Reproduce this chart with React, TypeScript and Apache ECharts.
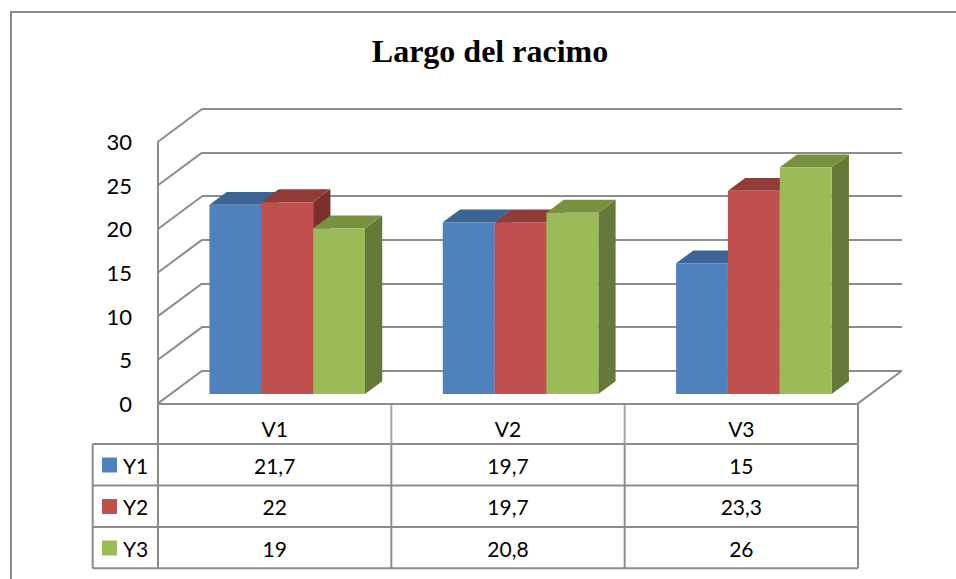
import React, { useEffect, useRef } from "react";
import * as echarts from "echarts";

// ---- data ----
const categories = ["V1", "V2", "V3"];
const seriesNames = ["Y1", "Y2", "Y3"];
const y1Values = [21.7, 19.7, 15];
const y2Values = [22, 19.7, 23.3];
const y3Values = [19, 20.8, 26];
const yTicks = [0, 5, 10, 15, 20, 25, 30];

const allValues = [y1Values, y2Values, y3Values];

// ---- styling ----
const FRONT = ["#4F81BD", "#C0504D", "#9BBB59"];
const TOP = ["#3C6494", "#923C3A", "#77913F"];
const SIDE = ["#34577F", "#7C302E", "#657A38"];
const GRID_COLOR = "#8c8c8c";
const LABEL_FONT = "Lato";
const TABLE_FONT_SIZE = 21;

// ---- layout (pixels) ----
const PLOT_LEFT = 158;
const PLOT_TOP = 141.7;
const PLOT_W = 700;
const PLOT_H = 261.7;
const DEPTH_X = 44; // full depth of the floor, projected
const DEPTH_Y = -32.7;
const BAR_FRONT = 0.285; // bars start this far into the depth
const BAR_DEPTH = 0.393; // and are this deep
const TABLE_LEFT = 92.7;
const ROW_LINES = [444, 485.5, 527, 568.3];
const ROW_TEXT_Y = [465, 506.5, 548];

const fmt = (v: number) => String(v).replace(".", ",");

function barRenderer(si: number) {
  return (_params: any, api: any) => {
    const cat = api.value(0);
    const val = api.value(1);
    const band = api.size([1, 0])[0];
    const base = api.coord([cat, 0]);
    const top = api.coord([cat, val]);
    const barW = band / 4.5;
    const fx = BAR_FRONT * DEPTH_X;
    const fy = BAR_FRONT * DEPTH_Y;
    const dx = BAR_DEPTH * DEPTH_X;
    const dy = BAR_DEPTH * DEPTH_Y;
    const x0 = base[0] - band / 2 + 0.75 * barW + si * barW + fx;
    const x1 = x0 + barW;
    const yb = base[1] + fy;
    const yt = top[1] + fy;
    return {
      type: "group",
      children: [
        {
          type: "polygon",
          shape: { points: [[x1, yt], [x1 + dx, yt + dy], [x1 + dx, yb + dy], [x1, yb]] },
          style: { fill: SIDE[si] },
        },
        {
          type: "polygon",
          shape: { points: [[x0, yt], [x1, yt], [x1 + dx, yt + dy], [x0 + dx, yt + dy]] },
          style: { fill: TOP[si] },
        },
        {
          type: "rect",
          shape: { x: x0, y: yt, width: barW, height: yb - yt },
          style: { fill: FRONT[si] },
        },
      ],
    };
  };
}

// diagonal lines of the side wall, one per tick
function sideWallRenderer(_params: any, api: any) {
  const v = api.value(1);
  const band = api.size([1, 0])[0];
  const p = api.coord([0, v]);
  const left = p[0] - band / 2;
  return {
    type: "line",
    shape: { x1: left, y1: p[1], x2: left + DEPTH_X, y2: p[1] + DEPTH_Y },
    style: { stroke: GRID_COLOR, lineWidth: 2 },
  };
}

// right edge of the floor
function floorEdgeRenderer(_params: any, api: any) {
  const band = api.size([1, 0])[0];
  const p = api.coord([api.value(0), 0]);
  const right = p[0] + band / 2;
  return {
    type: "line",
    shape: { x1: right, y1: p[1], x2: right + DEPTH_X, y2: p[1] + DEPTH_Y },
    style: { stroke: GRID_COLOR, lineWidth: 2 },
  };
}

// values of the data table under the plot
function tableRenderer(_params: any, api: any) {
  const cat = api.value(0);
  const val = api.value(1);
  const si = api.value(2);
  const p = api.coord([cat, 0]);
  return {
    type: "text",
    x: p[0],
    y: ROW_TEXT_Y[si],
    style: {
      text: fmt(val),
      fill: "#000",
      fontFamily: LABEL_FONT,
      fontSize: TABLE_FONT_SIZE,
      align: "center",
      verticalAlign: "middle",
      textAlign: "center",
      textVerticalAlign: "middle",
    },
  };
}

function buildTableGraphics() {
  const els: any[] = [];
  const right = PLOT_LEFT + PLOT_W;
  const floorY = PLOT_TOP + PLOT_H;
  ROW_LINES.forEach((y) => {
    els.push({
      type: "line",
      shape: { x1: TABLE_LEFT, y1: y, x2: right, y2: y },
      style: { stroke: GRID_COLOR, lineWidth: 2 },
    });
  });
  els.push({
    type: "line",
    shape: { x1: TABLE_LEFT, y1: ROW_LINES[0], x2: TABLE_LEFT, y2: ROW_LINES[3] },
    style: { stroke: GRID_COLOR, lineWidth: 2 },
  });
  for (let k = 0; k <= categories.length; k++) {
    const x = PLOT_LEFT + (k * PLOT_W) / categories.length;
    els.push({
      type: "line",
      shape: { x1: x, y1: floorY, x2: x, y2: ROW_LINES[0] },
      style: { stroke: k === 0 || k === categories.length ? GRID_COLOR : "#a6a6a6", lineWidth: 2 },
    });
    els.push({
      type: "line",
      shape: { x1: x, y1: ROW_LINES[0], x2: x, y2: ROW_LINES[3] },
      style: { stroke: GRID_COLOR, lineWidth: 2 },
    });
  }
  seriesNames.forEach((name, si) => {
    els.push({
      type: "rect",
      shape: { x: 102, y: ROW_TEXT_Y[si] - 7.5, width: 15, height: 15 },
      style: { fill: FRONT[si] },
    });
    els.push({
      type: "text",
      x: 123,
      y: ROW_TEXT_Y[si],
      style: {
        text: name,
        fill: "#000",
        fontFamily: LABEL_FONT,
        fontSize: TABLE_FONT_SIZE,
        align: "left",
        verticalAlign: "middle",
        textAlign: "left",
        textVerticalAlign: "middle",
      },
    });
  });
  return els;
}

export default function App() {
  const ref = useRef<HTMLDivElement>(null);

  useEffect(() => {
    if (!ref.current) return;
    const chart = echarts.init(ref.current, null, { renderer: "svg" });

    const tableData: number[][] = [];
    allValues.forEach((vals, si) => vals.forEach((v, ci) => tableData.push([ci, v, si])));

    const option: any = {
      animation: false,
      backgroundColor: "#ffffff",
      grid: [
        { left: PLOT_LEFT, top: PLOT_TOP, width: PLOT_W, height: PLOT_H },
        { left: PLOT_LEFT + DEPTH_X, top: PLOT_TOP + DEPTH_Y, width: PLOT_W, height: PLOT_H },
      ],
      xAxis: [
        {
          type: "category",
          gridIndex: 0,
          data: categories,
          axisLine: { show: true, lineStyle: { color: GRID_COLOR, width: 2 } },
          axisTick: { show: false },
          axisLabel: {
            show: true,
            color: "#000",
            fontFamily: LABEL_FONT,
            fontSize: TABLE_FONT_SIZE,
            margin: 15,
          },
          splitLine: { show: false },
        },
        {
          type: "category",
          gridIndex: 1,
          data: categories,
          show: false,
        },
      ],
      yAxis: [
        {
          type: "value",
          gridIndex: 0,
          min: 0,
          max: 30,
          interval: 5,
          axisLine: { show: true, lineStyle: { color: GRID_COLOR, width: 2 } },
          axisTick: { show: false },
          axisLabel: {
            color: "#000",
            fontFamily: LABEL_FONT,
            fontSize: 22,
            margin: 26,
          },
          splitLine: { show: false },
        },
        {
          type: "value",
          gridIndex: 1,
          min: 0,
          max: 30,
          interval: 5,
          axisLine: { show: false },
          axisTick: { show: false },
          axisLabel: { show: false },
          splitLine: { show: true, lineStyle: { color: GRID_COLOR, width: 2 } },
        },
      ],
      graphic: [
        {
          type: "rect",
          shape: { x: 11, y: 12, width: 1200, height: 1200 },
          style: { fill: "none", stroke: GRID_COLOR, lineWidth: 2 },
          silent: true,
        },
        {
          type: "text",
          x: 490,
          y: 51,
          style: {
            text: "Largo del racimo",
            fill: "#000",
            fontFamily: "Liberation Serif",
            fontWeight: "bold",
            fontSize: 32,
            align: "center",
            verticalAlign: "middle",
            textAlign: "center",
            textVerticalAlign: "middle",
          },
        },
        ...buildTableGraphics(),
      ],
      series: [
        {
          type: "custom",
          name: "side wall",
          xAxisIndex: 0,
          yAxisIndex: 0,
          z: 1,
          silent: true,
          renderItem: sideWallRenderer,
          data: yTicks.map((t) => [0, t]),
        },
        {
          type: "custom",
          name: "floor",
          xAxisIndex: 0,
          yAxisIndex: 0,
          z: 1,
          silent: true,
          renderItem: floorEdgeRenderer,
          data: [[categories.length - 1, 0]],
        },
        ...seriesNames.map((name, si) => ({
          type: "custom",
          name,
          xAxisIndex: 0,
          yAxisIndex: 0,
          z: 3,
          renderItem: barRenderer(si),
          data: allValues[si].map((v, ci) => [ci, v]),
        })),
        {
          type: "custom",
          name: "table",
          xAxisIndex: 0,
          yAxisIndex: 0,
          z: 3,
          silent: true,
          renderItem: tableRenderer,
          encode: { x: 0, y: 1 },
          data: tableData,
        },
      ],
    };

    chart.setOption(option);
    return () => chart.dispose();
  }, []);

  return (
    <div
      ref={ref}
      style={{ position: "absolute", left: 0, top: 0, width: 956, height: 579 }}
    />
  );
}
